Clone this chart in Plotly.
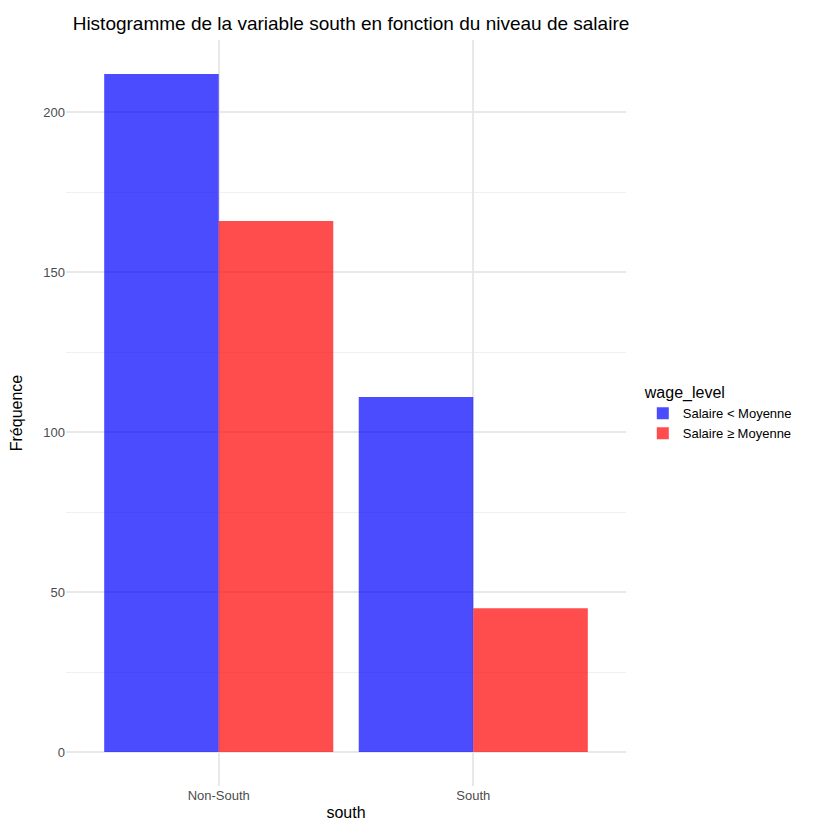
import plotly.graph_objects as go

categories = ["Non-South", "South"]
below = [212, 111]
above = [166, 45]
series_names = ["Salaire < Moyenne", "Salaire ≥ Moyenne"]

fig = go.Figure()
fig.add_bar(x=categories, y=below, name=series_names[0], marker=dict(color="rgba(0,0,255,0.7)", line=dict(width=0)))
fig.add_bar(x=categories, y=above, name=series_names[1], marker=dict(color="rgba(255,0,0,0.7)", line=dict(width=0)))

fig.update_layout(
    width=840, height=840,
    barmode="group", bargap=0.1, bargroupgap=0,
    plot_bgcolor="white", paper_bgcolor="white",
    font=dict(family="Liberation Sans, Arial", color="#000"),
    margin=dict(l=58, r=222, t=32, b=62, autoexpand=False),
    title=dict(text="Histogramme de la variable south en fonction du niveau de salaire",
               xref="container", x=0.077, xanchor="left", y=0.99, yanchor="top", font=dict(size=19)),
    legend=dict(title=dict(text="wage_level", font=dict(size=16)), x=1.03, xanchor="left",
                y=0.5, yanchor="middle", font=dict(size=13), itemsizing="constant"),
    xaxis=dict(title=dict(text="south", font=dict(size=16), standoff=4), range=[-0.6, 1.6],
               showgrid=True, gridcolor="#e8e8e8", gridwidth=1.6, ticks="",
               tickfont=dict(size=13, color="#4d4d4d"), zeroline=False),
    yaxis=dict(title=dict(text="Fréquence", font=dict(size=16), standoff=18), range=[-10.6, 222.6],
               tickvals=[0, 50, 100, 150, 200], showgrid=True, gridcolor="#e8e8e8", gridwidth=1.6,
               minor=dict(tickvals=[25, 75, 125, 175], showgrid=True, gridcolor="#f0f0f0", gridwidth=1),
               tickfont=dict(size=13, color="#4d4d4d"), zeroline=False, ticks=""),
)
fig.write_html("out.html")
